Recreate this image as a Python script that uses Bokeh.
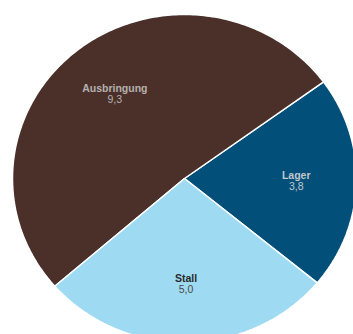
import numpy as np
from bokeh.plotting import figure
from bokeh.models import ColumnDataSource
from bokeh.core.properties import value
from bokeh.embed import file_html
from bokeh.resources import INLINE

categories = ["Lager", "Ausbringung", "Stall"]
values = [3.8, 9.3, 5.0]
value_labels = ["3,8", "9,3", "5,0"]
colors = ["#02507a", "#4b302a", "#9fdaf3"]
name_colors = ["#c0c6cc", "#b4b0ae", "#2b2b2b"]
val_colors = ["#c0c6cc", "#b4b0ae", "#4a4a4a"]

W, H = 353, 334
cx, cy = 184, H - 178
RX, RY = 172, 164
start = np.deg2rad(-39.5)

vals = np.array(values)
frac = vals / vals.sum()
ends = start + np.cumsum(frac) * 2 * np.pi
starts = np.concatenate([[start], ends[:-1]])
mids = (starts + ends) / 2

xs, ys = [], []
for a0, a1 in zip(starts, ends):
    t = np.linspace(a0, a1, 200)
    xs.append(np.concatenate([[cx], cx + RX * np.cos(t), [cx]]))
    ys.append(np.concatenate([[cy], cy + RY * np.sin(t), [cy]]))

lr = 0.65
lx = cx + lr * RX * np.cos(mids)
ly = cy + lr * RY * np.sin(mids)

src = ColumnDataSource(dict(cat=categories, xs=xs, ys=ys, color=colors,
                            lx=lx, ly=ly, val=value_labels,
                            nc=name_colors, vc=val_colors))

p = figure(width=W, height=H, x_range=(0, W), y_range=(0, H),
           output_backend="svg", toolbar_location=None, min_border=0)
p.axis.visible = False
p.grid.visible = False
p.outline_line_color = None
p.background_fill_color = "white"

p.patches(xs="xs", ys="ys", fill_color="color", line_color="white",
          line_width=1.5, source=src)

p.text(x="lx", y="ly", text="cat", text_color="nc", text_font=value("Liberation Sans"),
       text_font_style="bold", text_font_size="10.5px", text_align="center",
       text_baseline="middle", y_offset=-7, source=src)
p.text(x="lx", y="ly", text="val", text_color="vc", text_font=value("Liberation Sans"),
       text_font_size="10.5px", text_align="center", text_baseline="middle",
       y_offset=4, source=src)

open("out.html", "w").write(file_html(p, INLINE))
